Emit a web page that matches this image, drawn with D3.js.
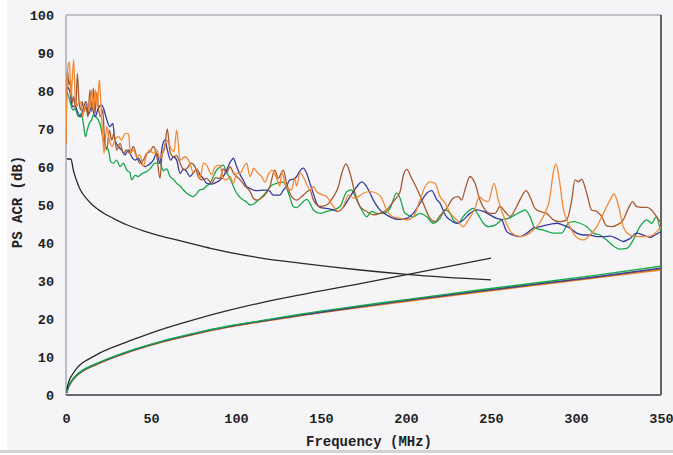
<!DOCTYPE html>
<html>
<head>
<meta charset="utf-8">
<script src="https://cdn.jsdelivr.net/npm/d3@7"></script>
<style>
  html, body { margin: 0; padding: 0; background: #ffffff; }
  text { font-family: "Liberation Mono", "Courier New", monospace; font-weight: bold; fill: #222; }
</style>
</head>
<body>
<div id="chart"></div>
<script>
const orangeAcr = [[0,66],[0.8,85],[2,87.7],[2.9,78.5],[4.5,88.2],[5.5,77.6],[6.3,75.9],[7.3,76.8],[8.6,77.2],[9.8,73.2],[11,75.9],[12.2,76.8],[13.7,74.6],[15.1,80.3],[16.1,75],[17.3,80.3],[18.4,75.9],[19.6,82.9],[20.4,77.6],[21.6,68],[22.4,63.6],[24,70.6],[25.5,67.1],[27.1,65.4],[28.8,67.1],[30.8,68],[32.7,67.1],[34.7,68.8],[36.7,68.8],[38,63.6],[39.6,64.5],[41.6,62.7],[43.5,63.2],[45.5,60.2],[47.1,62.7],[49,64.5],[51.4,63.6],[53.3,64.5],[55.3,62.3],[57.3,64.5],[59.2,67],[61.6,65],[63.5,64],[65.1,69.7],[67.1,61.8],[70,62.7],[72.9,61],[74.9,58.4],[76.9,59.5],[78.8,57],[80.8,61],[82.7,60.5],[85.7,58],[87.6,60],[90.6,60.5],[92.5,57],[94.5,56.6],[96.5,57.5],[98.4,55.7],[100.4,58.4],[102.4,58.3],[104.5,60],[106.3,61],[108.2,57.5],[110.5,59.6],[113.1,58.3],[115.1,57.5],[117,56],[119,58],[121,59.2],[123.9,57],[125.8,55],[126.9,58.5],[129.8,54.5],[132.7,54],[134.5,57],[135.7,55],[137.6,58.5],[140.6,56.5],[143.5,54],[145.5,54.8],[147.5,53.5],[150,52.8],[153.3,52.2],[157.3,49.6],[160.2,48.3],[163.1,49.6],[166.1,52.6],[169,51.8],[172,52.2],[174.9,53.1],[178.8,53.5],[182.7,53.1],[185.7,51.8],[188.6,48.7],[192.5,46.9],[196.5,46.5],[200.4,46.1],[204.3,46.9],[208.2,51.3],[211.2,54.8],[214.1,56.1],[217.1,55.7],[220,52.2],[223,50.5],[225.9,48],[229.8,46.1],[233.7,44.3],[236.7,46.1],[240.6,49.1],[243.1,52.2],[245.5,51.3],[248.4,50.9],[251.8,55.7],[254.3,51.3],[258.2,46.1],[262.2,42.6],[267.1,41.7],[271,42.1],[274.9,43.4],[280.8,47],[284.7,52.2],[286.7,58.8],[288.2,60.8],[290.2,56.6],[292.5,49.1],[295.5,45.2],[298.4,42.6],[301.4,41.2],[304.3,40.8],[308.2,42.1],[312.2,44.3],[316.1,47.8],[320,51.3],[322.4,52.9],[324.9,50],[327.8,44.3],[331.8,42.1],[335.7,41.7],[339.6,41.7],[343.5,41.8],[347.5,43],[350,44.3]];

const blueAcr = [[0,79],[0.8,81],[2.4,79.6],[3.8,75.9],[5.5,76],[6.7,74.6],[8.6,73.2],[10.2,75.5],[11.8,77.2],[13.2,73.8],[15.1,75.9],[17.1,73.2],[19,75.5],[21,76.3],[22.4,75],[24,72.4],[25.9,70.6],[27.5,71.5],[28.8,67.1],[30.8,65.4],[32.7,64.5],[34.7,63.2],[36.7,64.5],[38.6,62.7],[40.6,61.8],[42.5,62.3],[44.5,60.9],[46.5,60.1],[48.4,60.5],[51.4,61.8],[53.3,63.6],[55.3,61],[56.3,64.5],[58.2,67.1],[59.6,64.5],[61.6,61.8],[63.1,62.7],[65.1,61.8],[67.1,58.3],[69,59.5],[71,58.8],[72.9,57.5],[74.9,58.5],[76.9,59.5],[78.8,58],[80.8,57],[82.7,55.7],[85.7,55.5],[88.6,56],[90.6,56.6],[92.5,57.5],[94.5,59.2],[96.5,61.2],[97.4,61.8],[98.4,62.3],[100.4,60.1],[102.4,58],[104.3,56.5],[106.3,54.8],[108.2,54.4],[110.2,53.9],[112.1,53.8],[116,53.9],[118,53.9],[119.9,53.6],[121.9,52.6],[123.9,52.6],[125.8,52.6],[127.8,53.9],[129.8,55],[131.7,56.6],[133.7,56.8],[135.7,57.5],[137.6,59],[139.6,59.7],[141.6,58.3],[143.5,55.7],[145.5,53],[147.5,50.4],[149.4,49.4],[153.3,49.1],[157.3,48.7],[160.2,48.3],[163.1,49.4],[167.1,52.2],[171,54.8],[174,56.1],[176.9,54.8],[180.8,51.3],[184.7,48.7],[188.6,47.4],[192.5,46.5],[196.5,46.2],[200.4,46.5],[204.3,47.8],[208.2,50.4],[212.2,53.1],[215.1,53.8],[218,51.5],[220,50.5],[223,47.4],[225.9,46.1],[229.8,45.2],[233.7,46.1],[237.6,47.8],[241.6,48.7],[245.5,48.3],[249.4,47.4],[253.3,46.5],[256.3,46.1],[259.2,43],[263.1,42.1],[267.1,41.7],[271,42.6],[274.9,43.9],[278.8,44.3],[284.7,44.9],[288.6,45.2],[292.5,44.7],[296.5,43.9],[300.4,42.6],[304.3,42.1],[308.2,42.1],[312.2,41.7],[316.1,41.7],[320,41.8],[323.9,41.2],[327.8,40.4],[331.8,41.2],[335.7,42.6],[339.6,42.1],[343.5,41.5],[346.5,42.1],[350,43]];

const brownAcr = [[0,66],[0.8,85.5],[1.8,81.5],[2.7,83],[3.7,76.8],[4.6,78.5],[5.7,75],[6.7,84.6],[7.6,77.6],[8.6,75],[9.6,77.2],[10.6,74.6],[11.8,75.9],[12.9,73.2],[14.1,80.3],[15.1,74.6],[16.1,80.8],[17.1,74],[18,79.6],[19.2,75],[20.4,73.2],[21.6,75],[22.7,67.1],[24,64.5],[25.5,69.7],[26.9,67.1],[28.2,68.8],[29.8,64.5],[31.8,66.2],[33.7,63.6],[35.7,64.5],[37.6,63.6],[39.6,65.4],[41.6,62.7],[43.5,61],[45.5,61.8],[47.5,63.6],[49.4,64],[51.4,65.4],[53.3,63.2],[55.3,57],[56.5,63],[58,65],[59.6,70],[61.2,64],[63.1,62.7],[65.1,63],[67.1,61],[69.4,59.2],[71.5,59.8],[73.5,61],[75.9,60.1],[77.8,57.5],[79.8,56.6],[82.7,57],[85.7,55.7],[88,57.2],[90.6,57],[92.5,59.5],[94.5,58.5],[96.5,60.1],[98.4,58.5],[100.4,57.5],[102.4,56.6],[105.3,55],[108.2,53.6],[110.2,51.8],[112.1,51.3],[116,52.2],[119.9,54.8],[122.8,59.2],[124.8,57],[127.8,59.2],[129.8,55.7],[132.7,52.2],[135.7,51.3],[139.6,52.6],[143.5,53.9],[145.5,51.3],[149.4,49.6],[153.3,50],[157.3,52.2],[160.2,54.8],[162.2,58.3],[164.7,60.8],[167.1,58.3],[170,53.1],[173,49.6],[176.9,48.3],[180.8,47.4],[184.7,47.8],[188.6,48.7],[192.5,50.9],[196.5,53.5],[198.5,57.9],[200.4,59.4],[203.3,57],[206.3,54.4],[210.2,50.4],[214.1,46.5],[217.1,45.6],[220,47.2],[223.9,49.1],[227.8,51.8],[230.8,52.2],[232.7,51.3],[234.7,54],[237.6,57.5],[240.6,55.7],[243.5,51.3],[246.5,48.7],[249.4,47.8],[252.4,47.8],[255.3,49.6],[258.2,48.3],[261.2,47],[265.1,49.6],[268,52.2],[270.6,53.8],[272.9,52.2],[275.9,49.1],[278.8,48.3],[282.7,47.8],[286.7,46.1],[290.6,45.6],[294.5,46.1],[297.5,51.3],[299.4,56.6],[301.4,56.1],[303.3,56.8],[306.3,53.1],[309.2,48.7],[312.2,48.3],[315.1,47],[318,44.5],[321,44.3],[323.9,44.7],[327.8,46.1],[330.8,49.1],[333.3,50.9],[335.7,49.6],[338.6,49.4],[341.6,49.4],[344.5,48.7],[347.5,46.9],[350,45.2]];

const greenAcr = [[0,80],[0.8,79.4],[2,78],[3.1,75.9],[4.3,75],[5.5,75.5],[6.7,73.7],[7.8,73.2],[9,74.1],[10.2,71.5],[11.4,68],[12.5,69.7],[13.7,71.5],[15.1,72.4],[16.1,73.7],[17.6,73.2],[19,72.4],[20.4,70.6],[22,67.1],[23.3,65.4],[24.9,64.5],[26.3,61.4],[27.8,61],[29.8,61.8],[31.8,60.1],[33.7,61],[35.7,59.2],[37.6,58.5],[38.6,56.6],[40.6,57.8],[42.5,57.5],[44.5,58.2],[47.5,58.8],[49.4,59.5],[52.4,61],[55.3,61],[57.3,59],[59.2,59.5],[61.2,57.5],[63.1,56.8],[65.1,55.7],[67.1,55],[69,54],[71,53.1],[73,52.5],[74.9,52.2],[76.9,53],[78.8,54],[80.8,54.2],[82.7,55],[84.7,55.7],[86.7,57.5],[88.6,59.2],[90.6,60],[92.5,60.5],[94.5,58.5],[96.5,57],[98.4,55],[100.4,53.1],[102.4,52],[104.3,51.3],[106.3,50.8],[108.2,50],[110.2,50.2],[112.2,50.9],[115,52],[118,53.5],[120,54.8],[123.9,55.7],[127.8,56],[129.8,54.5],[131.7,52],[133.7,49.6],[135.7,49.3],[137.6,50],[141.6,51.5],[143.5,50.5],[145.5,48.7],[149.4,47.8],[153.3,48.3],[157.3,48.7],[161.2,49.6],[165.1,53.5],[168,54],[171,51.3],[174,48.7],[176.9,46.9],[179.8,48.3],[182.7,47.8],[186.7,47.8],[190.6,49.1],[194.5,53.1],[196.5,51.8],[199.4,47.8],[204.3,46.9],[208.2,47.8],[212.2,46.9],[216.1,45.2],[220,46.5],[223,48.7],[225.9,47.8],[227.8,46.1],[230.8,45.2],[233.7,47],[237.6,48.7],[239.6,49.1],[242.5,47.4],[245.5,45.2],[248.4,44.3],[252.4,44.7],[256.3,46.1],[260.2,46.5],[264.1,47.4],[268,48.3],[270,48.7],[272.9,47],[275.9,43.9],[280.8,43.4],[286.7,42.6],[291.6,42.6],[295.5,45.2],[298.4,45.6],[302.4,45.2],[306.3,44.3],[310.2,42.6],[314.1,42.1],[318,40.8],[322,39.2],[325.9,38.4],[329.8,38.6],[333.7,40.8],[337.6,44.3],[341.6,46.1],[344.5,45.2],[347.1,46.9],[350,42.6]];

// lower (insertion-loss like) curves, shared frequency points
const lowFreq   = [0.5, 1, 2, 3.5, 6, 10, 16, 36, 55, 75, 95, 114, 137, 173, 200, 244, 275, 310, 350];
const lowOrange = [0.5, 1.4, 2.5, 3.6, 4.9, 6.3, 7.6, 11.1, 13.7, 15.9, 17.8, 19.2, 20.8, 23.0, 24.6, 27.1, 28.8, 30.7, 32.9];
const lowBrown  = [0.6, 1.5, 2.6, 3.7, 5.0, 6.4, 7.7, 11.2, 13.8, 16.0, 17.9, 19.3, 20.9, 23.2, 24.8, 27.3, 29.0, 30.9, 33.2];
const lowBlue   = [0.6, 1.6, 2.7, 3.8, 5.1, 6.5, 7.8, 11.3, 13.9, 16.1, 18.0, 19.4, 21.0, 23.3, 24.9, 27.4, 29.1, 31.0, 33.4];
const lowGreen  = [0.7, 1.7, 2.8, 3.9, 5.2, 6.6, 7.9, 11.4, 14.0, 16.2, 18.1, 19.5, 21.2, 23.5, 25.1, 27.7, 29.4, 31.4, 33.9];

// black limit lines
const limitDownFreq = [0.5, 2.9, 4.3, 6.3, 8.2, 12.2, 16.1, 22, 27.8, 35.7, 45.5, 55.3, 65.1, 75, 85, 114, 137.6, 173, 202, 250];
const limitDownDb   = [62.1, 62.1, 59.2, 56.3, 54.2, 51.6, 49.8, 47.9, 46.5, 44.8, 43.2, 41.9, 40.8, 39.7, 38.6, 36.1, 34.7, 32.9, 31.7, 30.3];
const limitUpFreq = [0.5, 1, 2.4, 3.5, 6.3, 9, 12, 16, 20, 26, 36, 55, 75, 95, 114, 137, 173, 202, 250];
const limitUpDb   = [1.5, 2.5, 4.4, 5.2, 7, 8.2, 9.1, 10.1, 11.1, 12.3, 14, 17.1, 19.8, 22.2, 24.2, 26.3, 29.3, 31.8, 36];

const xTicks = [0, 50, 100, 150, 200, 250, 300, 350];
const yTicks = [0, 10, 20, 30, 40, 50, 60, 70, 80, 90, 100];

const W = 673, H = 455;
const margin = { top: 15, right: 12, bottom: 60, left: 66 };
const width = W - margin.left - margin.right;   // 595
const height = H - margin.top - margin.bottom;  // 380

const svg = d3.select('#chart').append('svg')
  .attr('width', W)
  .attr('height', H);

// page background
svg.append('rect').attr('x', 7).attr('y', 0).attr('width', W - 7).attr('height', 451).attr('fill', '#f5f5f8');
svg.append('rect').attr('x', 0).attr('y', 450).attr('width', W).attr('height', 3).attr('fill', '#d2d2d6');

const g = svg.append('g').attr('transform', `translate(${margin.left},${margin.top})`);

const x = d3.scaleLinear().domain([0, 350]).range([0, width]);
const y = d3.scaleLinear().domain([0, 100]).range([height, 0]);

g.append('clipPath').attr('id', 'plot-clip')
  .append('rect').attr('width', width).attr('height', height);

// axes (labels only, no tick marks)
const xAxis = g.append('g')
  .attr('transform', `translate(0,${height})`)
  .call(d3.axisBottom(x).tickValues(xTicks).tickSize(0).tickPadding(18));
const yAxis = g.append('g')
  .call(d3.axisLeft(y).tickValues(yTicks).tickSize(0).tickPadding(12));
[xAxis, yAxis].forEach(a => {
  a.select('.domain').remove();
  a.selectAll('text')
    .style('font-family', '"Liberation Mono", monospace')
    .style('font-weight', 'bold')
    .style('font-size', '13.5px')
    .attr('fill', '#222');
});

// plot frame
g.append('line').attr('x1', 0).attr('x2', width).attr('y1', 0).attr('y2', 0).attr('stroke', '#8a8d96').attr('stroke-width', 1.2);
g.append('line').attr('x1', width).attr('x2', width).attr('y1', 0).attr('y2', height).attr('stroke', '#333').attr('stroke-width', 1.5);
g.append('line').attr('x1', 0).attr('x2', 0).attr('y1', 0).attr('y2', height).attr('stroke', '#b9bdc8').attr('stroke-width', 2);
g.append('line').attr('x1', 0).attr('x2', width).attr('y1', height).attr('y2', height).attr('stroke', '#6a6a6e').attr('stroke-width', 2);

const plot = g.append('g').attr('clip-path', 'url(#plot-clip)');

const line = d3.line()
  .x(d => x(d[0]))
  .y(d => y(d[1]))
  .curve(d3.curveMonotoneX);

const pair = (fs, vs) => fs.map((f, i) => [f, vs[i]]);

// lower curves
[[lowOrange, '#f28a30'], [lowBrown, '#a65a2e'], [lowBlue, '#3b3f9a'], [lowGreen, '#16a84a']].forEach(([vals, c]) => {
  plot.append('path')
    .datum(pair(lowFreq, vals))
    .attr('d', line)
    .attr('fill', 'none')
    .attr('stroke', c)
    .attr('stroke-width', 1.4);
});

// limit lines
plot.append('path').datum(pair(limitDownFreq, limitDownDb)).attr('d', line)
  .attr('fill', 'none').attr('stroke', '#2a2a2a').attr('stroke-width', 1.3);
plot.append('path').datum(pair(limitUpFreq, limitUpDb)).attr('d', line)
  .attr('fill', 'none').attr('stroke', '#2a2a2a').attr('stroke-width', 1.3);

// measured PS ACR
[[greenAcr, '#16a84a'], [blueAcr, '#363c9c'], [brownAcr, '#a65a2e'], [orangeAcr, '#f58a33']].forEach(([data, c]) => {
  plot.append('path')
    .datum(data)
    .attr('d', line)
    .attr('fill', 'none')
    .attr('stroke', c)
    .attr('stroke-width', 1.3);
});

// titles
svg.append('text')
  .attr('x', 369).attr('y', 446)
  .attr('text-anchor', 'middle')
  .style('font-size', '14px')
  .text('Frequency (MHz)');

svg.append('text')
  .attr('transform', 'translate(22,202) rotate(-90)')
  .attr('text-anchor', 'middle')
  .style('font-size', '14px')
  .text('PS ACR (dB)');
</script>
</body>
</html>
